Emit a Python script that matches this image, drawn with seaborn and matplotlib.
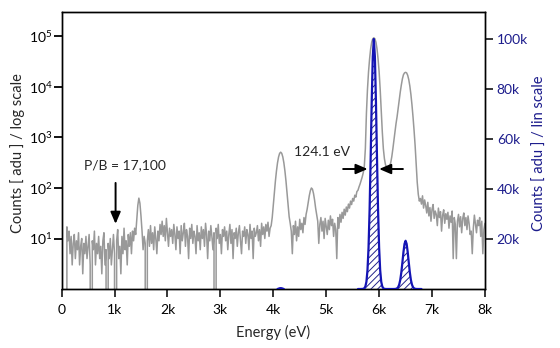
import numpy as np
import matplotlib
matplotlib.use("Agg")
import matplotlib.pyplot as plt
from matplotlib.ticker import FixedLocator, FuncFormatter, LogFormatterSciNotation, NullLocator
import seaborn as sns

# ---- spectrum data -------------------------------------------------------
# full spectrum, 20 eV channels from 80 eV to 8 keV (log-scaled counts)
channel_energy = np.arange(80, 8001, 20)
log_counts = [
    0, 17, 9, 14, 5, 11, 3, 8, 12, 4,
    9, 6, 13, 3, 7, 10, 2, 8, 5, 11,
    4, 7, 12, 3, 0, 9, 6, 14, 3, 8,
    5, 11, 4, 7, 2, 9, 13, 3, 6, 0,
    8, 4, 10, 3, 6, 12, 5, 0, 9, 15,
    4, 7, 2, 11, 5, 16, 6, 9, 3, 12,
    7, 13, 5, 14, 9, 16, 12, 24, 45, 63,
    50, 28, 14, 6, 11, 8, 0, 9, 15, 7,
    18, 8, 13, 6, 17, 10, 5, 14, 9, 19,
    12, 22, 11, 18, 9, 25, 13, 7, 16, 11,
    15, 8, 19, 12, 6, 17, 10, 14, 5, 18,
    9, 13, 20, 7, 15, 11, 4, 16, 10, 19,
    8, 14, 11, 5, 18, 9, 13, 6, 17, 10,
    15, 7, 20, 12, 4, 14, 9, 18, 11, 6,
    13, 0, 16, 10, 19, 8, 12, 5, 15, 11,
    17, 9, 14, 6, 12, 19, 8, 15, 4, 13,
    10, 16, 7, 13, 18, 9, 5, 14, 11, 17,
    8, 15, 12, 6, 19, 10, 14, 4, 16, 11,
    13, 18, 9, 15, 7, 20, 12, 17, 10, 19,
    14, 21, 11, 16, 18, 26, 45, 80, 137, 217,
    315, 412, 485, 512, 485, 412, 315, 217, 137, 80,
    45, 27, 20, 14, 5, 18, 12, 22, 9, 17,
    11, 24, 15, 20, 13, 26, 19, 30, 38, 52,
    70, 88, 100, 95, 78, 58, 40, 30, 22, 8,
    19, 26, 14, 22, 10, 25, 17, 12, 23, 15,
    28, 18, 24, 11, 20, 15, 4, 26, 16, 30,
    21, 33, 25, 38, 29, 42, 34, 48, 40, 55,
    47, 62, 55, 72, 66, 85, 90, 105, 120, 140,
    165, 200, 270, 600, 3000, 9000, 20000, 36000, 57000, 77000,
    90000, 94000, 90000, 77000, 57000, 36000, 20000, 9000, 3500, 1300,
    600, 380, 290, 260, 250, 250, 270, 320, 420, 600,
    900, 1300, 1900, 2600, 3800, 5500, 8000, 11000, 14500, 17500,
    19000, 19500, 19000, 17000, 14000, 10500, 7200, 4500, 2600, 1400,
    700, 300, 130, 75, 55, 62, 48, 70, 40, 58,
    45, 32, 52, 28, 41, 22, 38, 47, 25, 35,
    30, 18, 40, 26, 34, 14, 29, 37, 20, 31,
    24, 33, 16, 28, 21, 35, 4, 26, 19, 4,
    22, 30, 17, 27, 13, 25, 32, 18, 26, 15,
    28, 20, 12, 14, 5, 16, 29, 19, 13, 23,
    18, 26, 11, 22, 5, 15, 20,
]

# selected single-photon events (linear counts): Mn K-alpha / K-beta
peak_energy = np.arange(5600, 6801, 20)
lin_counts = [
    0, 0, 0, 10, 30, 70, 300, 1000, 2900, 7500,
    16500, 31600, 52300, 75000, 93000, 100000, 93000, 75000, 52300, 31600,
    16500, 7500, 2900, 1000, 300, 70, 20, 0, 0, 0,
    0, 0, 0, 0, 6, 26, 90, 280, 755, 1790,
    3700, 6700, 10650, 14800, 18050, 19300, 18050, 14800, 10650, 6700,
    3700, 1790, 755, 280, 90, 26, 6, 0, 0, 0,
    0,
]
# small residual line near 4.1 keV
blip_energy = np.arange(4080, 4201, 20)
blip_counts = [0, 150, 300, 350, 300, 150, 0]

x_ticks = [0, 1000, 2000, 3000, 4000, 5000, 6000, 7000, 8000]
x_tick_labels = ["0", "1k", "2k", "3k", "4k", "5k", "6k", "7k", "8k"]
log_ticks = [1e1, 1e2, 1e3, 1e4, 1e5]
lin_ticks = [20000, 40000, 60000, 80000, 100000]
lin_tick_labels = ["20k", "40k", "60k", "80k", "100k"]

fwhm_ev = 124.1
ka_center = 5900
pb_ratio_text = "P/B = 17,100"

# ---- style ---------------------------------------------------------------
sns.set_theme(style="ticks")
plt.rcParams["font.family"] = ["Lato", "DejaVu Sans"]
plt.rcParams["mathtext.fontset"] = "custom"
plt.rcParams["mathtext.rm"] = "Lato"
plt.rcParams["mathtext.it"] = "Lato:italic"
plt.rcParams["mathtext.bf"] = "Lato:bold"
plt.rcParams["hatch.linewidth"] = 0.7
plt.rcParams["hatch.color"] = "#23238a"

gray = "#999999"
blue = "#1414b4"
navy = "#1c1c8c"

fig = plt.figure(figsize=(5.6, 3.48), dpi=100)
ax = fig.add_axes([0.110, 0.1695, 0.756, 0.796])
ax2 = ax.twinx()

# gray spectrum on the log axis
sns.lineplot(x=channel_energy, y=log_counts, ax=ax, color=gray,
             linewidth=1.1, estimator=None, sort=False)
ax.set_yscale("log")
ax.set_ylim(1, 3.05e5)
ax.set_xlim(0, 8000)

# blue peaks on the linear axis
for ex, cy in ((blip_energy, blip_counts), (peak_energy, lin_counts)):
    ax2.fill_between(ex, 0, cy, facecolor="none", edgecolor="#23238a",
                     hatch="/////", linewidth=0, zorder=2)
    sns.lineplot(x=ex, y=cy, ax=ax2, color=blue, linewidth=1.6,
                 estimator=None, sort=False, zorder=4)
ax2.set_ylim(0, 110800)
ax2.set_xlim(0, 8000)

# ticks and labels
ax.xaxis.set_major_locator(FixedLocator(x_ticks))
ax.xaxis.set_major_formatter(FuncFormatter(
    lambda v, p: x_tick_labels[x_ticks.index(int(round(v)))] if int(round(v)) in x_ticks else ""))
ax.yaxis.set_major_locator(FixedLocator(log_ticks))
ax.yaxis.set_major_formatter(LogFormatterSciNotation())
ax.yaxis.set_minor_locator(NullLocator())
ax2.yaxis.set_major_locator(FixedLocator(lin_ticks))
ax2.set_yticklabels(lin_tick_labels)

ax.tick_params(axis="x", direction="out", length=5.5, width=1.1, pad=5,
               labelsize=10, colors="black")
ax.tick_params(axis="y", direction="out", length=5.5, width=1.3, pad=1,
               labelsize=10, colors="black")
ax2.tick_params(axis="y", direction="out", length=5.5, width=1.1, pad=3,
                labelsize=10, colors="black", labelcolor=navy)

for a in (ax, ax2):
    for s in a.spines.values():
        s.set_visible(True)
        s.set_linewidth(1.0)
        s.set_color("black")

ax.set_xlabel("Energy (eV)", fontsize=10.5)
ax.xaxis.set_label_coords(0.5, -0.128)
ax.set_ylabel("Counts [ adu ] / log scale", fontsize=10.5)
ax.yaxis.set_label_coords(-0.086, 0.49)
ax2.set_ylabel("Counts [ adu ] / lin scale", fontsize=10.5, color=navy)
ax2.yaxis.set_label_coords(1.112, 0.49)

# peak-to-background annotation
ax.annotate("", xy=(1020, 19.5), xytext=(1020, 126),
            arrowprops=dict(arrowstyle="-|>,head_length=0.7,head_width=0.3",
                            color="black", lw=1.4, mutation_scale=10,
                            shrinkA=0, shrinkB=0), zorder=6)
ax.text(1200, 285, pb_ratio_text, ha="center", va="center", fontsize=10)

# FWHM annotation of the K-alpha line
half_width = fwhm_ev / 2
arrow_y = 48000
ax2.annotate("", xy=(ka_center - half_width - 55, arrow_y), xytext=(5320, arrow_y),
             arrowprops=dict(arrowstyle="-|>,head_length=0.7,head_width=0.3",
                             color="black", lw=1.4, mutation_scale=10,
                             shrinkA=0, shrinkB=0), zorder=6)
ax2.annotate("", xy=(ka_center + half_width + 38, arrow_y), xytext=(6450, arrow_y),
             arrowprops=dict(arrowstyle="-|>,head_length=0.7,head_width=0.3",
                             color="black", lw=1.4, mutation_scale=10,
                             shrinkA=0, shrinkB=0), zorder=6)
ax2.text(4920, 54800, f"{fwhm_ev:.1f} eV", ha="center", va="center", fontsize=10)

fig.savefig("out.png", dpi=100)
